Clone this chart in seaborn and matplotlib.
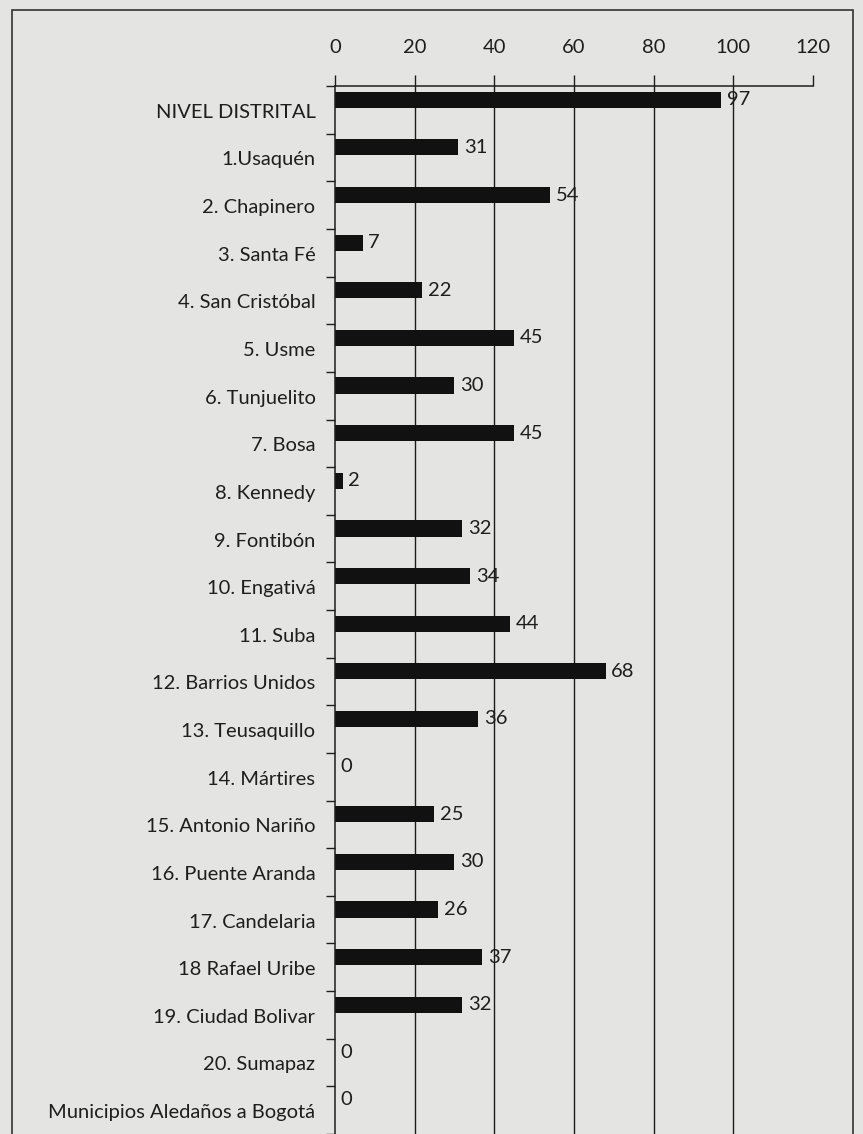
import matplotlib
matplotlib.use("Agg")
import matplotlib.pyplot as plt
import matplotlib.transforms as mtransforms
from matplotlib.patches import Rectangle
import numpy as np
import seaborn as sns

categorias = [
    "NIVEL DISTRITAL", "1.Usaquén", "2. Chapinero", "3. Santa Fé",
    "4. San Cristóbal", "5. Usme", "6. Tunjuelito", "7. Bosa",
    "8. Kennedy", "9. Fontibón", "10. Engativá", "11. Suba",
    "12. Barrios Unidos", "13. Teusaquillo", "14. Mártires",
    "15. Antonio Nariño", "16. Puente Aranda", "17. Candelaria",
    "18 Rafael Uribe", "19. Ciudad Bolivar", "20. Sumapaz",
    "Municipios Aledaños a Bogotá",
]
valores = [97, 31, 54, 7, 22, 45, 30, 45, 2, 32, 34, 44, 68, 36, 0,
           25, 30, 26, 37, 32, 0, 0]
xticks = [0, 20, 40, 60, 80, 100, 120]

sns.set_style("white")
plt.rcParams["font.family"] = ["Lato", "DejaVu Sans"]

fondo = "#e4e4e2"
tinta = "#1e1e1e"

fig = plt.figure(figsize=(8.63, 11.34), dpi=100, facecolor=fondo)
ax = fig.add_axes([0.388, 0.0, 0.554, 0.924], facecolor=fondo)

sns.barplot(x=valores, y=categorias, color="#111111", width=0.34,
            saturation=1, edgecolor="#111111", linewidth=0, ax=ax)

# valores al final de cada barra
ax.bar_label(ax.containers[0], labels=[str(v) for v in valores],
             padding=4, fontsize=14.5, color=tinta)

n = len(categorias)
ax.set_xlim(0, 120)
ax.set_ylim(n - 0.285, -0.285)
ax.set_xticks(xticks)
ax.xaxis.tick_top()
ax.tick_params(axis="x", direction="out", length=8, width=1, colors=tinta,
               labelsize=14.5, pad=14)
ax.grid(axis="x", color="#1a1a1a", linewidth=1)
ax.xaxis.get_gridlines()[-1].set_visible(False)
ax.xaxis.get_gridlines()[0].set_visible(False)

# separadores entre categorias en el eje vertical
ax.set_yticks(np.arange(n + 1) - 0.285, minor=True)
ax.tick_params(axis="y", which="minor", direction="out", length=6.5,
               width=1, color=tinta, left=True)
ax.tick_params(axis="y", which="major", length=0, labelsize=14.5,
               labelcolor=tinta, pad=14)
baja = mtransforms.ScaledTranslation(0, -8 / 72, fig.dpi_scale_trans)
for lab in ax.get_yticklabels():
    lab.set_transform(lab.get_transform() + baja)
ax.set_xlabel("")
ax.set_ylabel("")

for lado in ["right", "bottom"]:
    ax.spines[lado].set_visible(False)
for lado in ["top", "left"]:
    ax.spines[lado].set_color(tinta)
    ax.spines[lado].set_linewidth(1.1)

# marco exterior del grafico
fig.patches.append(Rectangle((12 / 863, -0.02), (853 - 12) / 863,
                             1.02 - 10 / 1134, transform=fig.transFigure,
                             fill=False, edgecolor="#333333", linewidth=1.2))

fig.savefig("out.png", dpi=100, facecolor=fondo)
